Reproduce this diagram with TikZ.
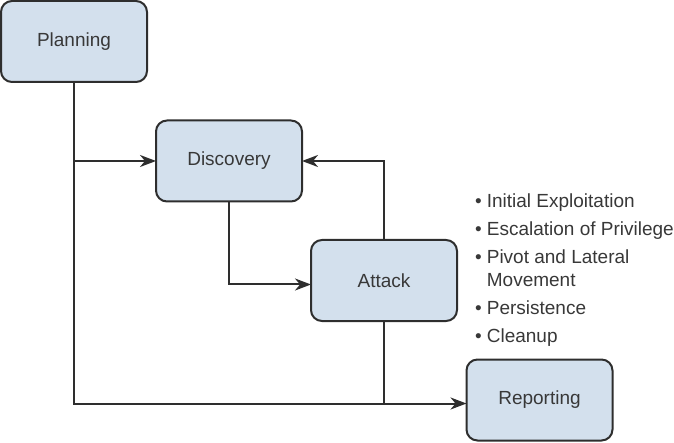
\documentclass[tikz,border=0pt]{standalone}
\usepackage{fontspec}
\setmainfont{Liberation Sans}
\usetikzlibrary{positioning,arrows.meta}
\definecolor{phasefill}{HTML}{D3E0ED}
\definecolor{phaseline}{HTML}{2E2E2E}
\definecolor{phasetext}{HTML}{383838}
\begin{document}
\begin{tikzpicture}[x=1pt, y=-1pt,
    phase/.style={draw=phaseline, line width=2pt, fill=phasefill, rounded corners=11pt,
        minimum width=146pt, minimum height=81pt, inner sep=0pt, outer sep=0pt, text=phasetext,
        font=\fontsize{19}{23}\selectfont},
    flow/.style={draw=phaseline, line width=2pt, -{Stealth[length=16pt, width=12pt, inset=5pt]}},
    link/.style={draw=phaseline, line width=2pt}]
    \useasboundingbox (0,0) rectangle (674,443);

    \node (planning) [phase] at (74,41.5) {Planning};
    \node (discovery) [phase, below right=38.5pt and 9pt of planning] {Discovery};
    \node (attack) [phase, below right=38.5pt and 9pt of discovery] {Attack};
    \node (reporting) [phase, below right=38.5pt and 9.5pt of attack] {Reporting};

    \node (tasks) [anchor=base west, inner sep=0pt, text=phasetext,
        font=\fontsize{19}{23}\selectfont] at (475,208)
        {\begin{tabular}[t]{@{}c@{\hspace{5pt}}l@{}}
            \textbullet & Initial Exploitation\\[5pt]
            \textbullet & Escalation of Privilege\\[5pt]
            \textbullet & Pivot and Lateral\\
                        & Movement\\[5pt]
            \textbullet & Persistence\\[5pt]
            \textbullet & Cleanup
        \end{tabular}};

    \draw[flow] (planning.south) |- ([yshift=-3.5pt]reporting.west);
    \draw[flow] (planning.south |- discovery.west) -- (discovery.west);
    \draw[flow] (discovery.south) |- ([yshift=-4pt]attack.west);
    \draw[flow] (attack.north) |- (discovery.east);
    \draw[link] (attack.south) -- ([yshift=-3.5pt]attack.south |- reporting.west);
\end{tikzpicture}
\end{document}
